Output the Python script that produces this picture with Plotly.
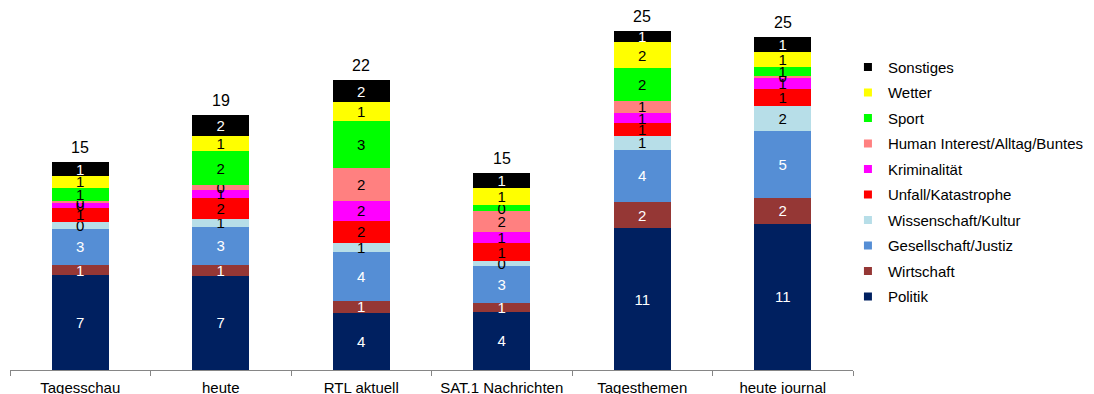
import plotly.graph_objects as go

categories = ["Tagesschau", "heute", "RTL aktuell", "SAT.1 Nachrichten", "Tagesthemen", "heute journal"]

series_names = ["Politik", "Wirtschaft", "Gesellschaft/Justiz", "Wissenschaft/Kultur",
                "Unfall/Katastrophe", "Kriminalität", "Human Interest/Alltag/Buntes",
                "Sport", "Wetter", "Sonstiges"]

politik      = [7.06, 7.01, 4.26, 4.33, 10.54, 10.86]
wirtschaft   = [0.74, 0.80, 0.87, 0.67, 1.96, 1.96]
gesellschaft = [2.70, 2.83, 3.67, 2.75, 3.87, 4.96]
wissenschaft = [0.48, 0.62, 0.67, 0.37, 1.06, 1.88]
unfall       = [1.09, 1.52, 1.61, 1.29, 0.92, 1.26]
kriminalitaet= [0.37, 0.62, 1.52, 0.82, 0.74, 0.80]
human        = [0.10, 0.37, 2.45, 1.58, 0.94, 0.17]
sport        = [1.01, 2.48, 3.44, 0.45, 2.43, 0.62]
wetter       = [0.89, 1.17, 1.43, 1.29, 1.91, 1.16]
sonstiges    = [1.00, 1.54, 1.61, 1.07, 0.84, 1.07]

series_values = [politik, wirtschaft, gesellschaft, wissenschaft, unfall,
                 kriminalitaet, human, sport, wetter, sonstiges]

colors = ["#002060", "#953735", "#558ED5", "#B7DEE8", "#FF0000",
          "#FF00FF", "#FF8080", "#00FF00", "#FFFF00", "#000000"]
text_colors = ["white", "white", "white", "black", "black",
               "black", "black", "black", "black", "white"]

FONT = "Liberation Sans, Arial, sans-serif"

fig = go.Figure()

# legend entries (small square symbols), top-to-bottom: Sonstiges ... Politik
for name, col in reversed(list(zip(series_names, colors))):
    fig.add_trace(go.Scatter(
        name=name, x=[categories[0]], y=[None], mode="markers",
        marker=dict(symbol="square", size=8, color=col),
        legendgroup=name, showlegend=True, hoverinfo="skip",
    ))

for name, vals, col, tcol in zip(series_names, series_values, colors, text_colors):
    fig.add_trace(go.Bar(
        name=name, x=categories, y=vals,
        marker=dict(color=col, line=dict(width=0)),
        text=[str(int(round(v))) for v in vals],
        textposition="inside", insidetextanchor="middle", textangle=0,
        constraintext="none",
        textfont=dict(color=tcol, size=15, family=FONT),
        legendgroup=name, showlegend=False,
    ))

totals = [sum(s[i] for s in series_values) for i in range(len(categories))]
for c, t in zip(categories, totals):
    fig.add_annotation(x=c, y=t, text=str(int(round(t))), showarrow=False,
                       yanchor="bottom", yshift=4,
                       font=dict(size=16, color="black", family=FONT))

fig.update_layout(
    width=1094, height=394,
    barmode="stack", bargap=0.595,
    margin=dict(l=10, r=241, t=10, b=24, autoexpand=False),
    paper_bgcolor="white", plot_bgcolor="white",
    font=dict(family=FONT, size=15, color="black"),
    uniformtext=dict(minsize=15, mode="show"),
    showlegend=True,
    legend=dict(x=0.994, y=0.887, xanchor="left", yanchor="top",
                traceorder="grouped", tracegroupgap=3,
                font=dict(size=15, color="black", family=FONT),
                itemwidth=30, bgcolor="rgba(0,0,0,0)"),
    xaxis=dict(type="category", categoryorder="array", categoryarray=categories,
               showline=True, linecolor="#868686", linewidth=1,
               ticks="outside", tickson="boundaries", ticklen=5, tickcolor="#868686",
               ticklabelstandoff=4,
               showgrid=False, tickfont=dict(size=15, family=FONT, color="black")),
    yaxis=dict(visible=False, range=[0, 360/13.45], showgrid=False, zeroline=False),
)

fig.write_html("out.html")
